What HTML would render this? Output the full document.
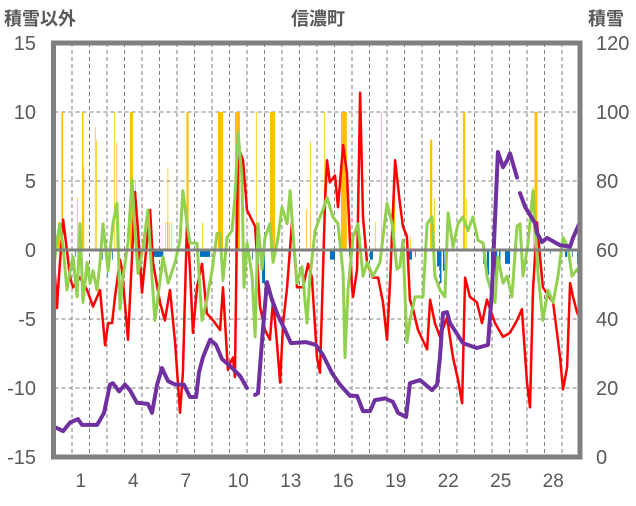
<!DOCTYPE html>
<html><head><meta charset="utf-8"><style>
body{margin:0;background:#fff}
svg text{font-family:"Liberation Sans","Noto Sans CJK JP",sans-serif;fill:#595959}
</style></head><body>
<svg id="chart" width="636" height="501" viewBox="0 0 636 501" xmlns="http://www.w3.org/2000/svg">
<text x="4" y="25" font-size="18" font-weight="bold">積雪以外</text>
<text x="318" y="25" font-size="18" font-weight="bold" text-anchor="middle">信濃町</text>
<text x="588" y="25" font-size="18" font-weight="bold">積雪</text>
<g id="grid"></g>
<g id="bars"></g>
<g id="lines"></g>
<g id="axes"></g>
</svg>
<script>
const leftTicks=[15,10,5,0,-5,-10,-15];
const rightTicks=[120,100,80,60,40,20,0];
const dayLabels=[1,4,7,10,13,16,19,22,25,28];
const tempT=[0,0.14,0.2,0.49,0.71,0.89,1.06,1.46,1.86,2.2,2.6,2.89,3.06,3.29,3.46,3.74,3.86,4.2,4.43,4.6,4.77,5.0,5.46,5.63,6.03,6.31,6.6,6.89,7.17,7.34,7.57,7.74,7.91,8.14,8.43,8.71,9.06,9.46,9.63,9.91,10.03,10.2,10.31,10.43,10.49,10.77,11.0,11.46,11.74,12.03,12.31,12.49,12.71,12.89,13.06,13.29,13.57,13.86,14.2,14.49,14.71,15.0,15.17,15.46,15.57,15.74,16.03,16.2,16.49,16.71,17.0,17.06,17.29,17.46,17.63,17.86,18.2,18.49,18.77,19.0,19.17,19.46,19.74,19.91,20.14,20.31,20.49,20.77,21.29,21.46,21.74,22.03,22.43,22.77,23.06,23.29,23.46,23.74,24.14,24.43,24.71,25.17,25.63,26.03,26.43,26.71,27.0,27.17,27.34,27.57,27.74,27.91,28.49,28.89,29.06,29.29,29.46,29.63,29.86,30];
const tempV=[-1.3,-4.2,-2.9,2.2,0,-2,-2.7,-2,-2.9,-4.1,-2.9,-6.9,-5.3,-5.3,-3.4,-0.7,-1.4,-6.5,-0.5,4.2,1.4,-3.1,2.9,-0.9,-3.8,-5.1,-2.9,-6.7,-11.8,-8.9,2,-1.4,-6,-2.7,-1,-4.6,-5.1,-5.8,-2.7,-8.7,-8.2,-7.8,-9.2,2,7.5,6.5,2.9,1.7,-4.1,-5.8,-6.5,-3.6,-6.7,-9.6,-5.3,-2.7,2,-2.7,-2.7,-1,-2,-7.8,-8.9,3.6,6.5,4.9,5.4,3.1,7.6,5.6,-2.7,-3.4,-1.4,11.4,2.4,-1,-2,-2,-3.8,-6.5,-2.4,6.5,3.4,1.7,1,-3.6,-4.3,-5.8,-7.2,-3.6,-5.3,-6.3,-4.9,-7.8,-9.4,-11.1,-2,-3.4,-3.8,-5.3,-3.6,-5.3,-6.3,-6,-5.1,-4.3,-9.6,-11.4,-2.9,2,-0.5,-2.7,-3.8,-7.8,-10.1,-8.5,-2.4,-3.4,-4.5,-4.9];
const greenT=[0,0.14,0.31,0.49,0.71,0.89,1.06,1.29,1.46,1.63,1.86,2.03,2.2,2.43,2.6,2.77,3.06,3.34,3.57,3.74,3.91,4.2,4.43,4.6,4.77,5.06,5.34,5.57,5.74,5.91,6.2,6.49,6.89,7.17,7.34,7.57,7.74,8.14,8.43,8.71,9.0,9.29,9.46,9.63,9.86,10.14,10.31,10.49,10.71,10.83,11.0,11.29,11.46,11.63,11.86,12.03,12.31,12.49,12.77,13.0,13.29,13.46,13.63,13.86,14.14,14.43,14.6,14.89,15.17,15.34,15.57,15.91,16.2,16.49,16.6,16.77,17.06,17.34,17.63,17.86,18.2,18.6,19.0,19.29,19.57,19.74,19.91,20.14,20.31,20.6,21.06,21.29,21.57,21.74,22.03,22.31,22.49,22.77,23.06,23.34,23.63,23.91,24.2,24.49,24.71,24.89,25.17,25.34,25.63,25.86,26.14,26.43,26.6,26.77,27.06,27.34,27.63,27.91,28.2,28.49,28.77,29.06,29.34,29.57,29.86,30];
const greenV=[-0.9,0.7,1.9,0.2,-2.9,-1.5,-0.5,-3.4,1.9,-3.8,-0.9,-2.4,-1.5,-2.9,-0.9,1.9,-1.5,1.9,3.4,-4.3,-2,0.5,5.1,1.4,-1.7,0.2,2.9,-2,-5.1,-3.4,-0.5,-2.4,-0.9,0.7,4.3,1.9,0.5,0.5,-5.1,-3.6,-1.5,1.2,1.2,-2.2,0.9,1.4,3.8,8.5,5.3,-2.7,0.5,-1.9,-6.3,1.9,-1.4,0.9,1.9,-0.9,0.9,3.1,1.9,4.3,1.2,-2.4,-1.2,-5.3,-1.9,1.4,2.4,2.9,3.8,2.4,1.9,-1.7,-7.8,-2.9,0.9,1.9,-1.9,-0.9,-1.9,-0.9,3.4,1.9,-1.4,-1.2,0.7,-6.7,-5.1,-3.4,-3.4,1.9,2.4,-1.9,-2.9,-3.4,2.7,0.2,1.9,2.4,1.4,2.4,0.7,0.5,-1.9,-2.7,-3.8,-0.5,-2.4,-1.9,-3.4,1.7,1.9,-1.9,0.5,4.3,-1.7,-5.1,-2.9,-3.8,-1.9,0.9,0.2,-1.9,-1.4,-1.7];
const snowT=[0,0.49,0.89,1.34,1.57,2.43,2.6,2.83,3.17,3.34,3.69,4.03,4.31,4.71,5.34,5.57,5.86,6.14,6.49,6.89,7.4,7.74,8.09,8.26,8.49,8.89,9.23,9.57,10.03,10.6,11.0,null,11.46,11.63,11.91,12.14,12.43,12.77,13.17,13.51,14.37,14.94,15.34,15.86,16.31,16.89,17.29,17.63,18.03,18.31,18.89,19.34,19.63,20.09,20.31,20.89,21.57,21.86,22.03,22.2,22.43,22.6,23.34,24.14,24.77,25.0,25.29,25.34,25.63,25.86,26.03,26.43,null,26.6,26.89,27.46,27.57,27.86,28.14,28.89,29.46,29.63,30];
const snowDepth=[8.7,7.5,10,11,9.3,9.3,10.7,12.8,21,21.4,19,21,19.4,15.7,15.4,12.8,21,25.8,22,21,21,17.4,17.4,24.6,29,34,32.5,28.4,26.4,23.5,20,null,18,18.5,36.8,50.7,45.5,41,36.8,33,33.3,32.5,29.6,24.3,21,17.7,17.7,13.3,13.3,16.5,17,16,12.8,11.6,21.4,22.3,19.4,21,29,41.7,42,38.8,33,31.6,32.5,48.4,83,88.4,84,86,88,81,null,76.5,72.5,67.8,65,62.3,63.5,61.4,61,63.5,67.8];
const precipT=[0.2,0.4,1.29,1.57,1.66,2.31,2.37,3.4,3.54,4.31,4.6,6.31,6.43,6.46,6.54,6.66,7.54,8.43,9.34,10.31,11.51,12.31,14.37,14.6,15.4,16.37,17.34,17.69,18.31,18.66,19.34,20.31,21.46,21.69,23.34,23.51,27.34,27.43];
const precipH=[3,2,1,2,1,1,1,1,1,4,1,1,1,1,1,1,3,1,7,7,1,7,1,1,1,8,1,1,1,1,3,1,3,1,3,1,1,4];
const precipV=[2,10,3.8,10,6,8.9,8,10,7.8,10,5,2,2,6,2,2,10,2,10,10,10,10,2.9,7.9,10,10,2.9,2,2,10,5,1,8,3.8,10,3.8,4.6,10];
const snowfallT=[1.17,2.71,3.0,3.29,5.63,8.31,11.29,11.63,11.86,13.46,15.74,18.03,20.14,20.6,21.86,22.03,22.2,24.49,24.71,24.94,25.17,25.4,25.74,28.31,29.17,29.57,29.86];
const snowfallH=[1,1,1,1,14,14,1,1,4,1,7,4,7,1,4,2,2,3,3,3,3,2,7,1,3,1,1];
const snowfallV=[-0.5,-0.7,-2,-0.7,-0.5,-0.5,-0.7,-1.7,-2.4,-0.5,-0.7,-0.7,-0.7,-0.5,-1.2,-2.4,-1.5,-1,-1.8,-2.5,-3.1,-1.5,-1,-0.3,-0.5,-0.5,-1];

const NS='http://www.w3.org/2000/svg';
const X0=54.5,DW=17.5,YT=43,YB=457;
function xs(t){return X0+t*DW;}
function yl(v){return YB-(v+15)/30*(YB-YT);}
function yr(v){return YB-v/120*(YB-YT);}
function mk(tag,attrs,parent){const e=document.createElementNS(NS,tag);for(const k in attrs)e.setAttribute(k,attrs[k]);parent.appendChild(e);return e;}
const grid=document.getElementById('grid'),bars=document.getElementById('bars'),lines=document.getElementById('lines'),axes=document.getElementById('axes');
for(let d=1;d<30;d++){const l=mk('line',{x1:xs(d),x2:xs(d),y1:YT,y2:YB,stroke:'#7f7f7f','stroke-width':1,'stroke-dasharray':'4 3'},grid);

}
leftTicks.forEach(v=>{if(v!==15&&v!==-15&&v!==0){const l=mk('line',{x1:X0,x2:580,y1:yl(v),y2:yl(v),stroke:'#7f7f7f','stroke-width':1,'stroke-dasharray':'4 3'},grid);

}
const t=mk('text',{x:36,y:yl(v)+7,'font-size':20,'text-anchor':'end'},axes);t.textContent=v;

});
rightTicks.forEach(v=>{const t=mk('text',{x:596,y:yr(v)+7,'font-size':20},axes);t.textContent=v;

});
dayLabels.forEach(d=>{const t=mk('text',{x:xs(d+0.5),y:487,'font-size':19,'text-anchor':'middle'},axes);t.textContent=d;

});
const HW=DW/24;
precipT.forEach((t,i)=>{const v=Math.min(precipV[i],10);const r=mk('rect',{x:xs(t),y:yl(v),width:precipH[i]*HW,height:yl(0)-yl(v),fill:'#FFC000'},bars);

});
snowfallT.forEach((t,i)=>{const v=snowfallV[i];const r=mk('rect',{x:xs(t),y:yl(0),width:snowfallH[i]*HW,height:yl(v)-yl(0),fill:'#0070C0'},bars);

});
const zl=mk('line',{x1:X0,x2:580,y1:yl(0),y2:yl(0),stroke:'#808080','stroke-width':3},axes);


function path(T,V,yf){let d='',pen=false;T.forEach((t,i)=>{if(t===null||V[i]===null){pen=false;return;}d+=(pen?'L':'M')+xs(t).toFixed(1)+','+yf(V[i]).toFixed(1);pen=true;});return d;}
const pr=mk('path',{d:path(tempT,tempV,yl),fill:'none',stroke:'#FF0000','stroke-width':2.5,'stroke-linejoin':'round'},lines);


const pg=mk('path',{d:path(greenT,greenV,yl),fill:'none',stroke:'#92D050','stroke-width':3,'stroke-linejoin':'round'},lines);


const pp=mk('path',{d:path(snowT,snowDepth,yr),fill:'none',stroke:'#7030A0','stroke-width':4,'stroke-linejoin':'round','stroke-linecap':'round'},lines);


const fr=mk('rect',{x:53.5,y:43,width:526.5,height:414,fill:'none',stroke:'#808080','stroke-width':5},axes);


</script>
</body></html>
